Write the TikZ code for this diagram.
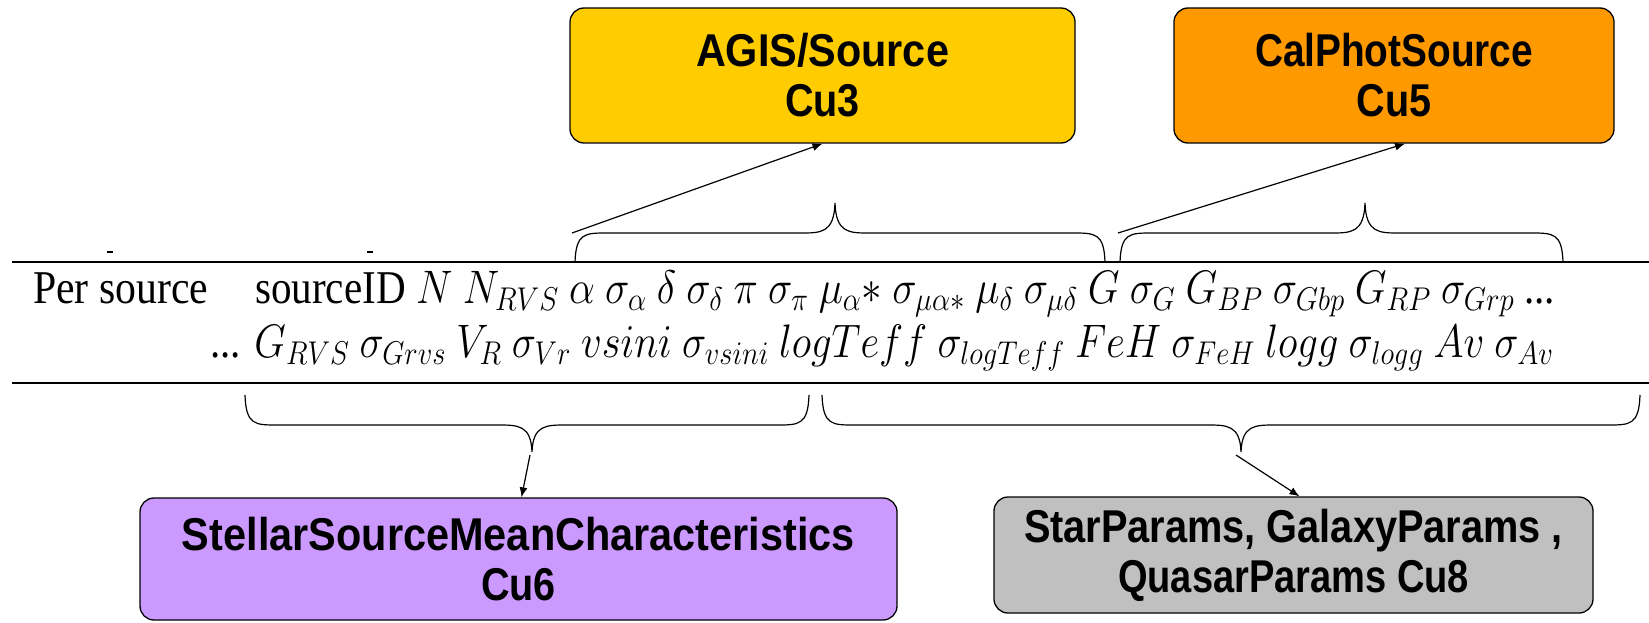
\RequirePackage{fix-cm}
\documentclass[tikz,border=0pt]{standalone}
\usepackage{fontspec}
\setmainfont{Liberation Serif}
\newfontfamily\boxfont{Liberation Sans}
\usepackage{graphicx}
\usetikzlibrary{arrows.meta}
\definecolor{agisY}{HTML}{FFCC00}
\definecolor{calO}{HTML}{FF9900}
\definecolor{purp}{HTML}{CC99FF}
\definecolor{grayb}{HTML}{C0C0C0}
\newcommand\brc[6]{%
\draw[brace] (#1,#4) .. controls (#1+1,#5) and (#1+10,#5) .. (#1+32,#5) -- (#3-34,#5) .. controls (#3-14,#5) and (#3-1,#5) .. (#3,#6) .. controls (#3+1,#5) and (#3+14,#5) .. (#3+34,#5) -- (#2-32,#5) .. controls (#2-10,#5) and (#2-1,#5) .. (#2,#4);}
\tikzset{
 box/.style={draw=black, line width=1.3pt, rounded corners=14pt, align=center, inner sep=0pt,
   font=\boxfont\bfseries\fontsize{46}{50}\selectfont},
 brace/.style={line width=1.2pt},
 arr/.style={line width=1.2pt, -{Latex[length=10pt,width=8pt]}},
 rulel/.style={line width=1.8pt},
 txt/.style={inner sep=0pt, anchor=base west, font=\fontsize{47}{56}\selectfont},
}
\begin{document}
\begin{tikzpicture}[x=1pt,y=-1pt]
\useasboundingbox (0,0) rectangle (1649,623);
% boxes
\node[box, fill=agisY, minimum width=505pt, minimum height=135pt] (agis) at (822.5,75.5)
  {\resizebox{253pt}{\height}{AGIS/Source}\\\scalebox{0.86}[1]{Cu3}};
\node[box, fill=calO, minimum width=440pt, minimum height=135pt] (cal) at (1394,75.5)
  {\resizebox{278pt}{\height}{CalPhotSource}\\\scalebox{0.86}[1]{Cu5}};
\node[box, fill=purp, minimum width=757pt, minimum height=122pt] (stellar) at (518.5,559)
  {\resizebox{673pt}{\height}{StellarSourceMeanCharacteristics}\\\scalebox{0.86}[1]{Cu6}};
\node[box, fill=grayb, minimum width=599pt, minimum height=116pt] (gray) at (1293.5,555)
  {\resizebox{539pt}{\height}{StarParams, GalaxyParams ,}\\\resizebox{351pt}{\height}{QuasarParams Cu8}};
% rules
\draw[rulel] (12,262) -- (1649,262);
\draw[rulel] (12,383) -- (1649,383);
\draw[line width=1.6pt] (107,252) -- (113,252);
\draw[line width=1.6pt] (367,252) -- (373,252);
% text lines
\node[txt] (per) at (33,303) {\resizebox{175pt}{\height}{Per source}};
\node[txt] (l1) at (255,303) {\resizebox{1300pt}{\height}{sourceID $N$ $N_{RVS}$ $\alpha$ $\sigma_\alpha$ $\delta$ $\sigma_\delta$ $\pi$ $\sigma_\pi$ $\mu_\alpha{*}$ $\sigma_{\mu\alpha*}$ $\mu_\delta$ $\sigma_{\mu\delta}$ $G$ $\sigma_G$ $G_{BP}$ $\sigma_{Gbp}$ $G_{RP}$ $\sigma_{Grp}$ ...}};
\node[txt] (l2) at (210,357) {\resizebox{1343pt}{\height}{... $G_{RVS}$ $\sigma_{Grvs}$ $V_R$ $\sigma_{Vr}$ $vsini$ $\sigma_{vsini}$ $logTeff$ $\sigma_{logTeff}$ $FeH$ $\sigma_{FeH}$ $logg$ $\sigma_{logg}$ $Av$ $\sigma_{Av}$}};
% braces
\brc{575}{1105}{835}{262}{233}{203}
\brc{1120}{1563}{1365}{262}{233}{203}
\brc{245}{809}{532}{395}{425}{452}
\brc{822}{1640}{1241}{395}{425}{452}
% arrows
\coordinate (a1) at (572,233);
\coordinate (a2) at (1118,233);
\coordinate (a3) at (530,455);
\coordinate (a4) at (1236,455);
\draw[arr] (a1) -- (agis.south);
\draw[arr] (a2) -- ([xshift=11pt]cal.south);
\draw[arr] (a3) -- ([xshift=3pt]stellar.north);
\draw[arr] (a4) -- ([xshift=6pt]gray.north);
\end{tikzpicture}
\end{document}
